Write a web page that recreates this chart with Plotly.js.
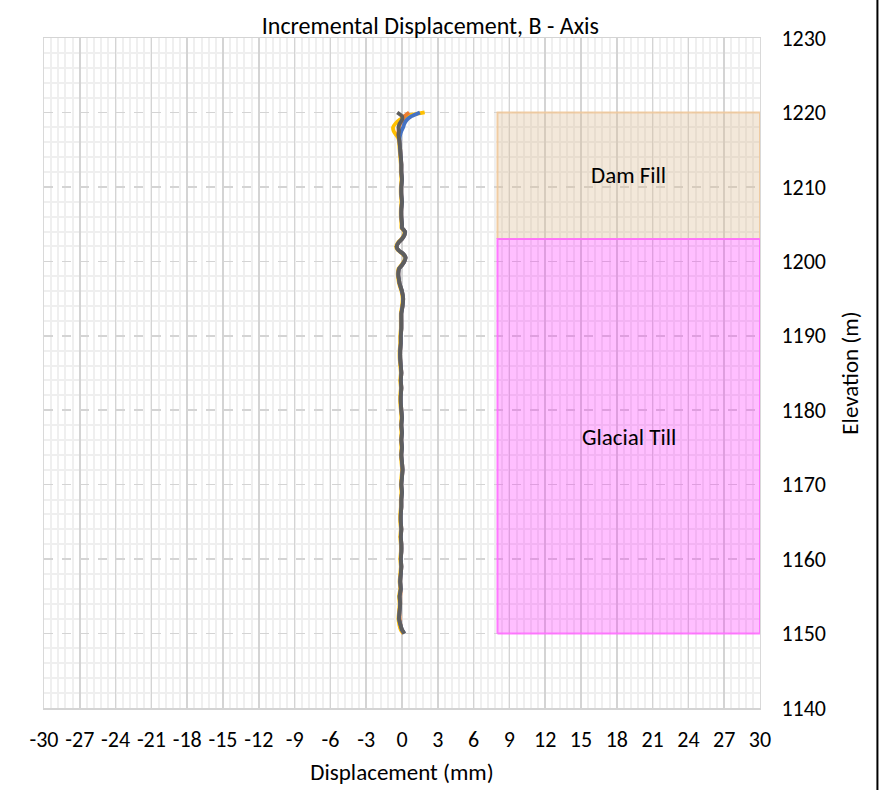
<!DOCTYPE html>
<html>
<head>
<meta charset="utf-8">
<script src="https://cdn.plot.ly/plotly-3.0.1.min.js"></script>
<style>html,body{margin:0;padding:0;background:#fff;}#chart{width:891px;height:790px;}</style>
</head>
<body>
<div id="chart"></div>
<script>
// Elevation (m) of readings
const elevation = [1150,1150.5,1151,1152,1153,1154,1155,1156,1157,1158,1159,1160,1161,1162,1163,1164,1165,1166,1167,1168,1169,1170,1171,1172,1173,1174,1175,1176,1177,1178,1179,1180,1181,1182,1183,1184,1185,1186,1187,1188,1189,1190,1191,1192,1193,1194,1195,1196,1196.5,1197,1197.5,1198,1198.5,1199,1199.5,1200,1200.5,1201,1201.5,1202,1202.5,1203,1203.5,1204,1204.5,1205,1206,1207,1208,1209,1210,1211,1212,1213,1214,1215,1216,1216.5,1217,1217.5,1218,1218.5,1219,1219.5,1220];

// Incremental displacement (mm) per reading series
const dispYellow = [0.1,-0.1,-0.2,-0.3,-0.25,-0.2,-0.25,-0.15,-0.2,-0.15,-0.1,-0.15,-0.1,-0.1,-0.15,-0.1,-0.15,-0.15,-0.1,-0.1,-0.05,-0.1,-0.05,0.0,-0.05,-0.1,-0.05,-0.1,-0.05,-0.1,-0.05,-0.1,-0.15,-0.15,-0.1,-0.15,-0.1,-0.15,-0.2,-0.2,-0.15,-0.15,-0.1,-0.1,-0.1,0.0,0.05,-0.05,-0.15,-0.25,-0.3,-0.35,-0.35,-0.3,-0.05,0.15,0.25,0.05,-0.35,-0.5,-0.35,-0.05,0.15,0.2,-0.05,-0.05,-0.1,-0.1,-0.05,-0.1,-0.1,-0.05,-0.1,-0.1,-0.15,-0.2,-0.25,-0.3,-0.5,-0.7,-0.75,-0.55,-0.2,0.3,1.9];
const dispOrange = [0.15,0.0,-0.1,-0.2,-0.2,-0.15,-0.15,-0.1,-0.15,-0.1,-0.05,-0.1,-0.05,-0.05,-0.1,-0.05,-0.1,-0.1,-0.05,-0.05,0.0,-0.05,0.0,0.05,0.0,-0.05,0.0,-0.05,0.0,-0.05,0.0,-0.05,-0.1,-0.1,-0.05,-0.1,-0.05,-0.1,-0.15,-0.15,-0.1,-0.1,-0.05,-0.05,-0.05,0.05,0.1,0.0,-0.1,-0.2,-0.25,-0.3,-0.3,-0.25,0.0,0.2,0.3,0.1,-0.3,-0.45,-0.3,0.0,0.2,0.25,0.0,0.0,-0.05,-0.05,0.0,-0.05,-0.05,0.0,-0.05,-0.05,-0.1,-0.15,-0.2,-0.25,-0.3,-0.3,-0.25,-0.15,0.1,0.2,0.6];
const dispBlue = [0.2,0.0,-0.1,-0.25,-0.2,-0.15,-0.2,-0.1,-0.15,-0.1,-0.05,-0.1,-0.05,-0.05,-0.1,-0.05,-0.1,-0.1,-0.05,-0.05,0.0,-0.05,0.0,0.05,0.0,-0.05,0.0,-0.05,0.0,-0.05,0.0,-0.05,-0.1,-0.1,-0.05,-0.1,-0.05,-0.1,-0.15,-0.15,-0.1,-0.1,-0.05,-0.05,-0.05,0.05,0.1,0.0,-0.1,-0.2,-0.25,-0.3,-0.3,-0.25,0.0,0.2,0.3,0.1,-0.3,-0.45,-0.3,0.0,0.2,0.25,0.0,0.0,-0.05,-0.05,0.0,-0.05,-0.05,0.0,-0.05,-0.05,-0.1,-0.15,-0.2,-0.2,-0.15,-0.05,0.1,0.2,0.4,0.8,1.5];
const dispGray = [0.2,0.0,-0.1,-0.25,-0.2,-0.15,-0.2,-0.1,-0.15,-0.1,-0.05,-0.1,-0.05,-0.05,-0.1,-0.05,-0.1,-0.1,-0.05,-0.05,0.0,-0.05,0.0,0.05,0.0,-0.05,0.0,-0.05,0.0,-0.05,0.0,-0.05,-0.1,-0.1,-0.05,-0.1,-0.05,-0.1,-0.15,-0.15,-0.1,-0.1,-0.05,-0.05,-0.05,0.05,0.1,0.0,-0.1,-0.2,-0.25,-0.3,-0.3,-0.25,0.0,0.2,0.3,0.1,-0.3,-0.45,-0.3,0.0,0.2,0.25,0.0,0.0,-0.05,-0.05,0.0,-0.05,-0.05,0.0,-0.05,-0.05,-0.1,-0.15,-0.2,-0.25,-0.3,-0.25,-0.3,-0.2,0.0,0.0,-0.4];

// Soil layers
const layerNames = ['Dam Fill', 'Glacial Till'];
const layerTop = [1220, 1203];
const layerBottom = [1203, 1150];
const layerXMin = [8, 8];
const layerXMax = [30, 30];

// Axis ticks
const xTickVals = [-30,-27,-24,-21,-18,-15,-12,-9,-6,-3,0,3,6,9,12,15,18,21,24,27,30];
const xTickText = ['-30','-27','-24','-21','-18','-15','-12','-9','-6','-3','0','3','6','9','12','15','18','21','24','27','30'];

const FONT = 'Carlito, Lato, "Liberation Sans", sans-serif';
const layerFill = ['rgba(222,190,150,0.35)', 'rgba(255,0,255,0.25)'];
const layerLine = ['rgba(238,200,155,0.9)', 'rgba(255,110,255,0.9)'];

const traces = [];
layerNames.forEach((n, i) => {
  traces.push({
    x: [layerXMin[i], layerXMax[i], layerXMax[i], layerXMin[i], layerXMin[i]],
    y: [layerBottom[i], layerBottom[i], layerTop[i], layerTop[i], layerBottom[i]],
    type: 'scatter', mode: 'lines', fill: 'toself',
    fillcolor: layerFill[i], line: {color: layerLine[i], width: 2},
    hoverinfo: 'skip', showlegend: false, name: n
  });
});
const series = [
  {d: dispYellow, c: '#FFC000'},
  {d: dispOrange, c: '#ED7D31'},
  {d: dispBlue, c: '#4472C4'},
  {d: dispGray, c: '#5E5E5E'}
];
series.forEach(s => {
  traces.push({
    x: s.d, y: elevation, type: 'scatter', mode: 'lines',
    line: {color: s.c, width: 3.8, shape: 'spline', smoothing: 0.4},
    showlegend: false
  });
});

const annotations = layerNames.map((n, i) => ({
  x: (layerXMin[i] + layerXMax[i]) / 2,
  y: (layerTop[i] + layerBottom[i]) / 2 + (i === 0 ? 0.1 : -0.1),
  text: n, showarrow: false, xref: 'x', yref: 'y',
  font: {family: FONT, size: 23, color: '#000'}
}));

const layout = {
  width: 891, height: 790,
  margin: {l: 44, r: 131, t: 38, b: 82},
  paper_bgcolor: '#fff', plot_bgcolor: '#fff',
  showlegend: false,
  title: {text: 'Incremental Displacement, B - Axis', xref: 'container', x: 0.483, xanchor: 'center',
          yref: 'container', y: 0.968, yanchor: 'middle', font: {family: FONT, size: 24, color: '#000'}},
  xaxis: {
    range: [-30, 30], tickvals: xTickVals, ticktext: xTickText,
    showgrid: true, gridcolor: '#d4d4d4', gridwidth: 1.5,
    minor: {dtick: 0.6, showgrid: true, gridcolor: '#efefef', gridwidth: 2, griddash: 'solid'},
    zeroline: false, showline: true, linecolor: '#d4d4d4', linewidth: 1.5, mirror: true,
    ticks: '', ticklabelstandoff: 11,
    tickfont: {family: FONT, size: 22, color: '#000'},
    title: {text: 'Displacement (mm)', standoff: 12, font: {family: FONT, size: 23, color: '#000'}}
  },
  yaxis: {
    range: [1140, 1230], dtick: 10, side: 'right',
    showgrid: true, gridcolor: '#d4d4d4', gridwidth: 1.5, griddash: 'dash',
    minor: {dtick: 2, showgrid: true, gridcolor: '#efefef', gridwidth: 2, griddash: 'solid'},
    zeroline: false, showline: true, linecolor: '#d9d9d9', linewidth: 1, mirror: true,
    ticks: '', ticklabelstandoff: 16,
    tickfont: {family: FONT, size: 22, color: '#000'},
    title: {text: 'Elevation (m)', standoff: 16, font: {family: FONT, size: 23, color: '#000'}}
  },
  annotations: annotations,
  shapes: [{type: 'line', xref: 'paper', yref: 'paper', x0: 1.164, x1: 1.164, y0: -0.2, y1: 1.2,
            line: {color: '#000', width: 2}}]
};

Plotly.newPlot('chart', traces, layout, {displayModeBar: false, staticPlot: true});
</script>
</body>
</html>
